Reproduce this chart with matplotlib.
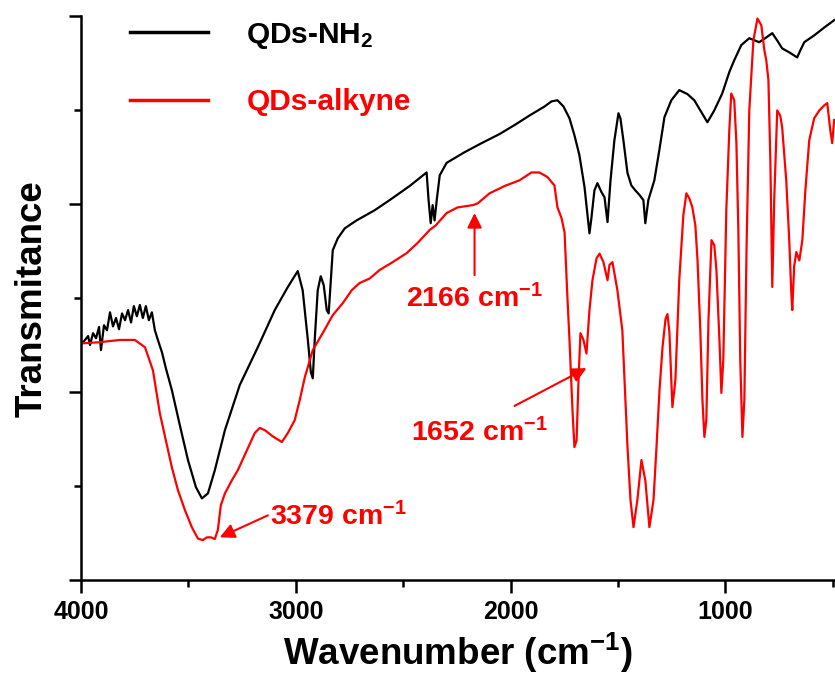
import matplotlib
matplotlib.use('Agg')
import matplotlib.pyplot as plt
import numpy as np

plt.rcParams['font.family'] = ['Liberation Sans', 'DejaVu Sans']
plt.rcParams['font.weight'] = 'bold'
plt.rcParams['mathtext.fontset'] = 'custom'
plt.rcParams['mathtext.rm'] = 'Liberation Sans:bold'
plt.rcParams['mathtext.bf'] = 'Liberation Sans:bold'
plt.rcParams['mathtext.default'] = 'bf'

# QDs-NH2 spectrum (wavenumber, transmittance in arbitrary units 0-100)
nh2_wn = [3995, 3981, 3967, 3958, 3944, 3930, 3916, 3907, 3893, 3879, 3865, 3851,
          3837, 3823, 3809, 3795, 3781, 3767, 3754, 3740, 3726, 3712, 3698, 3684,
          3670, 3656, 3642, 3623, 3605, 3577, 3540, 3502, 3465, 3437, 3409, 3377,
          3330, 3261, 3177, 3098, 3037, 2991, 2968, 2944, 2930, 2921, 2912, 2898,
          2884, 2870, 2856, 2847, 2837, 2828, 2805, 2772, 2717, 2633, 2563, 2470,
          2391, 2382, 2372, 2363, 2354, 2344, 2330, 2298, 2214, 2135, 2052, 1982,
          1912, 1842, 1810, 1782, 1754, 1726, 1703, 1680, 1656, 1642, 1633, 1624,
          1610, 1596, 1577, 1563, 1549, 1535, 1517, 1498, 1489, 1475, 1456, 1438,
          1419, 1400, 1382, 1373, 1359, 1331, 1308, 1284, 1252, 1215, 1177, 1145,
          1112, 1084, 1052, 1015, 982, 959, 926, 889, 843, 815, 782, 759, 736, 703,
          666, 652, 633, 587, 540, 494]
nh2_t = [42.0, 42.6, 43.3, 41.7, 43.8, 42.9, 44.9, 40.8, 45.2, 44.3, 47.5, 45.0,
         46.5, 44.5, 47.3, 46.1, 47.9, 45.7, 48.6, 46.8, 48.8, 46.5, 48.6, 46.1,
         47.5, 44.3, 42.6, 40.4, 37.6, 33.7, 27.5, 21.3, 16.5, 14.5, 15.4, 19.5,
         26.6, 34.6, 41.3, 47.9, 52.0, 54.8, 51.4, 42.6, 36.9, 35.8, 42.6, 51.4,
         53.9, 52.3, 47.9, 47.3, 53.2, 58.5, 60.6, 62.4, 63.8, 65.6, 67.4, 69.9,
         72.3, 67.4, 63.3, 66.5, 63.8, 67.4, 71.8, 74.0, 75.9, 77.5, 79.1, 80.7,
         82.4, 84.0, 84.9, 85.1, 84.0, 81.9, 78.9, 75.4, 69.7, 64.7, 61.5, 64.2,
         69.1, 70.4, 68.8, 67.9, 63.5, 70.9, 78.0, 82.8, 81.9, 78.0, 72.2, 70.0,
         69.1, 68.3, 67.4, 63.3, 67.4, 70.9, 76.2, 82.1, 85.1, 86.9, 86.2, 85.1,
         83.0, 81.2, 83.3, 86.3, 90.1, 92.2, 94.9, 96.1, 95.4, 96.1, 97.0, 95.7,
         94.3, 93.6, 92.7, 93.9, 95.4, 96.6, 98.0, 99.3]

# QDs-alkyne spectrum
alk_wn = [3995, 3912, 3819, 3749, 3702, 3665, 3633, 3605, 3577, 3549, 3516, 3484,
          3456, 3433, 3414, 3395, 3377, 3363, 3349, 3330, 3298, 3270, 3228, 3191,
          3168, 3144, 3107, 3065, 3037, 3005, 2982, 2958, 2921, 2875, 2828, 2782,
          2740, 2703, 2656, 2610, 2549, 2484, 2433, 2377, 2349, 2298, 2247, 2177,
          2154, 2098, 2028, 1959, 1903, 1866, 1829, 1796, 1782, 1763, 1749, 1735,
          1726, 1712, 1703, 1693, 1684, 1675, 1661, 1647, 1633, 1619, 1600, 1586,
          1568, 1549, 1540, 1526, 1503, 1480, 1456, 1442, 1428, 1410, 1391, 1373,
          1354, 1335, 1321, 1307, 1293, 1279, 1270, 1261, 1247, 1233, 1215, 1196,
          1182, 1168, 1154, 1140, 1130, 1117, 1107, 1098, 1089, 1079, 1065, 1052,
          1042, 1028, 1019, 1010, 996, 982, 973, 959, 949, 940, 931, 921, 912, 902,
          889, 870, 851, 833, 819, 810, 800, 791, 782, 773, 759, 745, 736, 717,
          703, 694, 689, 680, 670, 656, 642, 628, 610, 587, 563, 540, 526, 512,
          503, 494]
alk_t = [42.0, 42.2, 42.6, 42.6, 41.3, 37.2, 29.6, 24.8, 20.0, 16.0, 12.4, 9.4,
         7.4, 7.1, 7.6, 7.6, 7.3, 8.9, 13.3, 15.4, 17.7, 19.5, 23.0, 26.1,
         27.0, 26.6, 25.5, 24.5, 26.1, 28.4, 31.9, 36.0, 40.8, 43.8, 47.0, 49.1,
         51.4, 52.7, 53.5, 55.0, 56.4, 58.0, 59.8, 62.1, 62.9, 65.1, 66.1, 66.5,
         66.8, 68.6, 69.9, 70.9, 72.3, 72.3, 71.5, 70.0, 66.1, 64.2, 61.7, 49.6,
         42.6, 30.1, 23.6, 24.8, 35.5, 43.8, 42.6, 40.2, 47.9, 53.2, 57.1, 57.9,
         56.4, 53.2, 55.9, 56.4, 51.4, 44.3, 23.6, 14.2, 9.4, 14.2, 21.3, 17.7,
         9.4, 14.2, 23.6, 33.7, 41.3, 46.3, 47.2, 44.1, 30.7, 35.5, 53.2, 64.7,
         68.6, 67.7, 66.1, 62.9, 56.7, 44.3, 31.9, 25.4, 28.4, 46.1, 60.3, 59.4,
         55.0, 42.6, 33.2, 39.0, 65.6, 79.8, 86.3, 85.1, 77.5, 62.1, 39.0, 25.4, 31.9, 58.5,
         83.3, 95.7, 99.6, 98.4, 94.0, 92.2, 88.7, 74.5, 52.0, 67.4, 83.3, 82.4, 80.3, 70.9,
         60.3, 51.4, 47.9, 55.7, 58.2, 56.7, 60.3, 69.1, 78.0, 81.9, 83.3, 84.2, 84.6, 79.8,
         77.5, 81.6]

# annotations: label, text pos, arrow tail, arrow tip
ann_labels = ['3379 cm$^{-1}$', '2166 cm$^{-1}$', '1652 cm$^{-1}$']
ann_text = [(3121, 11.2), (2168, 50.0), (2145, 26.2)]
ann_tail = [(3130, 11.5), (2168, 54.1), (1982, 30.9)]
ann_tip = [(3354, 7.6), (2168, 65.1), (1647, 37.6)]
ann_ha = ['left', 'center', 'center']

fig = plt.figure(figsize=(8.35, 6.77), dpi=100)
ax = fig.add_axes([0.097, 0.143, 0.903, 0.833])

ax.plot(nh2_wn, nh2_t, color='black', lw=1.6, label='QDs-NH$_2$')
ax.plot(alk_wn, alk_t, color='#ff0000', lw=1.6, label='QDs-alkyne')

for lab, tp, tail, tip, ha in zip(ann_labels, ann_text, ann_tail, ann_tip, ann_ha):
    ax.annotate('', xy=tip, xytext=tail,
                arrowprops=dict(arrowstyle='-|>', color='#ff0000', lw=1.5,
                                mutation_scale=22, shrinkA=0, shrinkB=0))
    ax.text(tp[0], tp[1], lab, color='#ff0000', fontsize=20.5, fontweight='bold',
            ha=ha, va='center')

ax.set_xlim(4000, 490)
ax.set_ylim(0, 100)
ax.set_xticks([4000, 3000, 2000, 1000])
ax.set_xticks([3500, 2500, 1500, 500], minor=True)
ax.set_yticks([0, 100 / 3, 200 / 3, 100])
ax.set_yticks([50 / 3, 50, 250 / 3], minor=True)
ax.set_yticklabels([])
ax.tick_params(which='major', direction='out', length=9, width=1.8, labelsize=18, pad=5)
ax.tick_params(which='minor', direction='out', length=5, width=1.8)
for lbl in ax.get_xticklabels():
    lbl.set_fontweight('heavy')

for s in ['top', 'right']:
    ax.spines[s].set_visible(False)
for s in ['left', 'bottom']:
    ax.spines[s].set_linewidth(1.8)

ax.set_xlabel('Wavenumber (cm$^{-1}$)', fontsize=26.5, fontweight='bold', labelpad=5)
ax.set_ylabel('Transmitance', fontsize=26.5, fontweight='bold')
ax.yaxis.set_label_coords(-0.042, 0.5)

leg = ax.legend(loc='upper left', bbox_to_anchor=(0.065, 0.992), frameon=False,
                fontsize=21.5, handlelength=2.6, handletextpad=1.3, labelspacing=1.25,
                borderpad=0, borderaxespad=0)
for line in leg.get_lines():
    line.set_linewidth(2.5)
leg.get_texts()[1].set_color('#ff0000')

fig.savefig('out.png', dpi=100)
